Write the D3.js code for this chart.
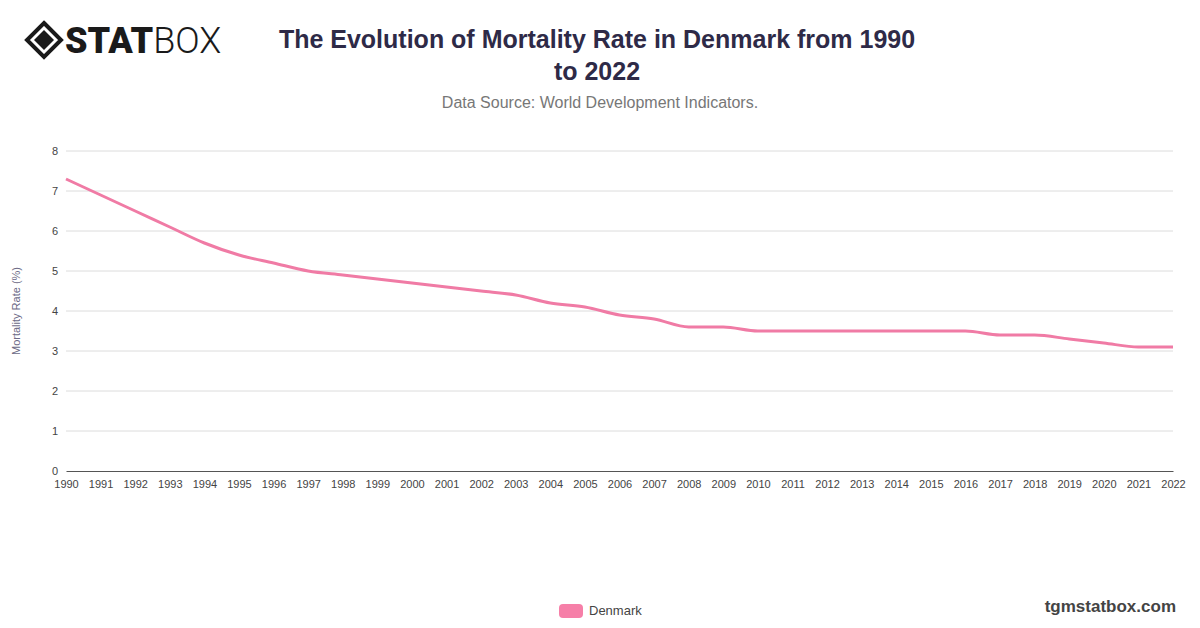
<!DOCTYPE html>
<html>
<head>
<meta charset="utf-8">
<style>
    body { margin: 0; background: #fff; font-family: Helvetica, Arial, "Liberation Sans", sans-serif; }
    svg { display: block; }
</style>
<script src="https://d3js.org/d3.v7.min.js"></script>
</head>
<body>
<svg id="chart"></svg>
<script>
// data
let years = d3.range(1990, 2023)
let denmark = [7.3, 6.9, 6.5, 6.1, 5.7, 5.4, 5.2, 5.0, 4.9, 4.8,
               4.7, 4.6, 4.5, 4.4, 4.2, 4.1, 3.9, 3.8, 3.6, 3.6,
               3.5, 3.5, 3.5, 3.5, 3.5, 3.5, 3.5, 3.4, 3.4, 3.3,
               3.2, 3.1, 3.1]
let yTicks = [0, 1, 2, 3, 4, 5, 6, 7, 8]

let width = 1200, height = 628
let margin = {top: 151, right: 27, bottom: 157, left: 66}
let svg = d3.select('#chart').attr('width', width).attr('height', height)

let x = d3.scaleLinear().domain([1990, 2022]).range([margin.left, width - margin.right])
let y = d3.scaleLinear().domain([0, 8]).range([height - margin.bottom, margin.top])

// logo
let logo = svg.append('g')
logo.append('path')
    .attr('d', 'M44,23 L61,40 L44,57 L27,40 Z')
    .attr('fill', 'none').attr('stroke', '#1a1a1a').attr('stroke-width', 4)
logo.append('path')
    .attr('d', 'M44,30 L54,40 L44,50 L34,40 Z')
    .attr('fill', '#1a1a1a')
logo.append('text')
    .attr('x', 65).attr('y', 53)
    .attr('font-family', 'Roboto, sans-serif')
    .attr('font-size', 36).attr('font-weight', 900)
    .attr('fill', '#1a1a1a')
    .text('STAT')
    .append('tspan').attr('font-weight', 300).text('BOX')

// title
svg.append('text').attr('x', 597).attr('y', 48)
    .attr('text-anchor', 'middle').attr('font-size', 25).attr('font-weight', 'bold')
    .attr('fill', '#2e2a47')
    .text('The Evolution of Mortality Rate in Denmark from 1990')
svg.append('text').attr('x', 597).attr('y', 80)
    .attr('text-anchor', 'middle').attr('font-size', 25).attr('font-weight', 'bold')
    .attr('fill', '#2e2a47')
    .text('to 2022')
svg.append('text').attr('x', 600).attr('y', 108)
    .attr('text-anchor', 'middle').attr('font-size', 16)
    .attr('fill', '#777')
    .text('Data Source: World Development Indicators.')

// grid
svg.append('g').selectAll('line').data(yTicks.filter(d => d > 0)).enter()
    .append('line')
    .attr('x1', margin.left).attr('x2', width - margin.right)
    .attr('y1', d => y(d)).attr('y2', d => y(d))
    .attr('stroke', '#dcdcdc').attr('stroke-width', 1)

// y axis
let yAxis = svg.append('g')
    .attr('transform', `translate(${margin.left},0)`)
    .call(d3.axisLeft(y).tickValues(yTicks).tickSize(0).tickPadding(8))
yAxis.select('.domain').remove()
yAxis.selectAll('text').attr('font-size', 11).attr('fill', '#444')
    .attr('font-family', 'Helvetica, Arial, "Liberation Sans", sans-serif')

// x axis
let xAxis = svg.append('g')
    .attr('transform', `translate(0,${y(0)})`)
    .call(d3.axisBottom(x).tickValues(years).tickFormat(d3.format('d')).tickSize(0).tickPadding(9))
xAxis.select('.domain').attr('stroke', '#555')
xAxis.selectAll('text').attr('font-size', 11).attr('fill', '#444')
    .attr('font-family', 'Helvetica, Arial, "Liberation Sans", sans-serif')

// y label
svg.append('text')
    .attr('transform', `translate(20,${(y(0) + y(8)) / 2}) rotate(-90)`)
    .attr('text-anchor', 'middle').attr('font-size', 11)
    .attr('fill', '#6c6a86')
    .text('Mortality Rate (%)')

// line
let line = d3.line()
    .x((d, i) => x(years[i]))
    .y(d => y(d))
    .curve(d3.curveMonotoneX)
svg.append('path').datum(denmark)
    .attr('d', line)
    .attr('fill', 'none').attr('stroke', '#f07ba5').attr('stroke-width', 3)

// legend
svg.append('rect').attr('x', 559).attr('y', 604).attr('width', 24).attr('height', 14)
    .attr('rx', 4).attr('fill', '#f67fa8')
svg.append('text').attr('x', 589).attr('y', 615)
    .attr('font-size', 13).attr('fill', '#444').text('Denmark')

// footer
svg.append('text').attr('x', 1176).attr('y', 612)
    .attr('text-anchor', 'end').attr('font-size', 17).attr('font-weight', 'bold')
    .attr('fill', '#444').text('tgmstatbox.com')
</script>
</body>
</html>
